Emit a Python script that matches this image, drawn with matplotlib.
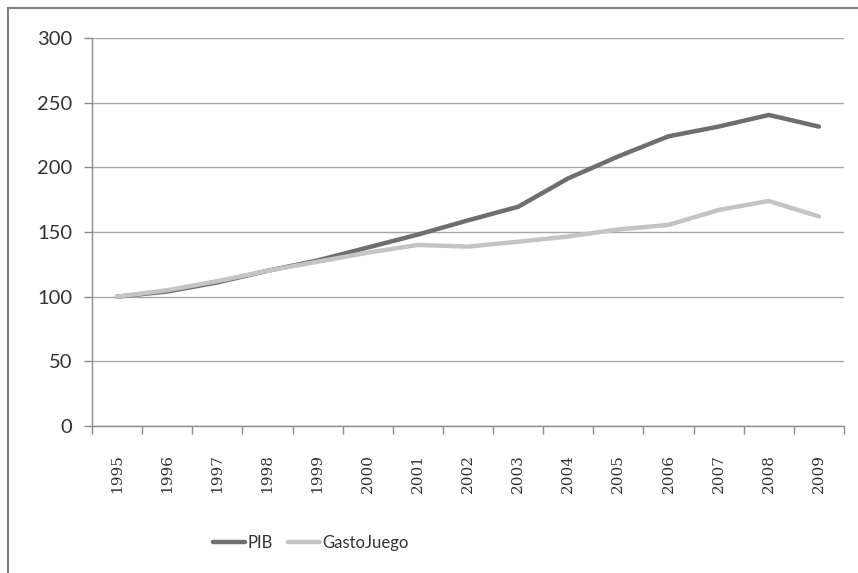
import matplotlib
matplotlib.use("Agg")
import matplotlib.pyplot as plt
import numpy as np
from matplotlib.lines import Line2D

# Data
years = ["1995", "1996", "1997", "1998", "1999", "2000", "2001", "2002",
         "2003", "2004", "2005", "2006", "2007", "2008", "2009"]
pib = [100, 104, 111, 120, 128, 138, 148, 159, 169.5, 191.5, 208.5, 224, 231.5, 240.5, 231.5]
gasto = [100, 105, 112, 120, 127, 134, 140, 138.7, 142.5, 146.5, 152, 155.5, 167, 174, 162]

plt.rcParams['font.family'] = ['Lato', 'DejaVu Sans']

fig = plt.figure(figsize=(8.58, 5.73), dpi=100)
ax = fig.add_axes([92/858, 1 - 426/573, (844 - 92)/858, (426 - 38)/573])

x = np.arange(len(years))
ax.plot(x, pib, color='#6e6e6e', linewidth=3.2, solid_capstyle='round', label='PIB', zorder=3)
ax.plot(x, gasto, color='#c4c4c4', linewidth=3.2, solid_capstyle='round', label='GastoJuego', zorder=3)

ax.set_xlim(-0.5, len(years) - 0.5)
ax.set_ylim(0, 300)
ax.set_yticks(range(0, 301, 50))
ax.yaxis.grid(True, color='#a6a6a6', linewidth=1)
ax.set_axisbelow(True)

ax.set_xticks(x)
ax.set_xticklabels(years, rotation=90, fontsize=11, family='DejaVu Serif')
ax.set_xticks(np.arange(-0.5, len(years), 1), minor=True)
ax.tick_params(axis='x', which='major', length=0, pad=20, colors='#333333')
ax.tick_params(axis='x', which='minor', length=6, color='#8c8c8c', width=1)
ax.tick_params(axis='y', length=6, color='#8c8c8c', width=1, labelsize=14.5, labelcolor='#333333', pad=8)

for s in ['top', 'right']:
    ax.spines[s].set_visible(False)
for s in ['left', 'bottom']:
    ax.spines[s].set_color('#8c8c8c')
    ax.spines[s].set_linewidth(1)

leg = fig.legend(loc='center', bbox_to_anchor=(311/858, 1 - 543/573), ncol=2, frameon=False,
                 fontsize=12, handlelength=1.9, handletextpad=0.15, columnspacing=0.9)
for t in leg.get_texts():
    t.set_color('#333333')

# outer frame (clipped at the right and bottom in the original)
fig.add_artist(Line2D([8/858, 8/858], [0, 1 - 8/573], color='#7f7f7f', linewidth=1.5))
fig.add_artist(Line2D([8/858, 1], [1 - 8/573, 1 - 8/573], color='#7f7f7f', linewidth=1.5))

fig.savefig("out.png", dpi=100)
